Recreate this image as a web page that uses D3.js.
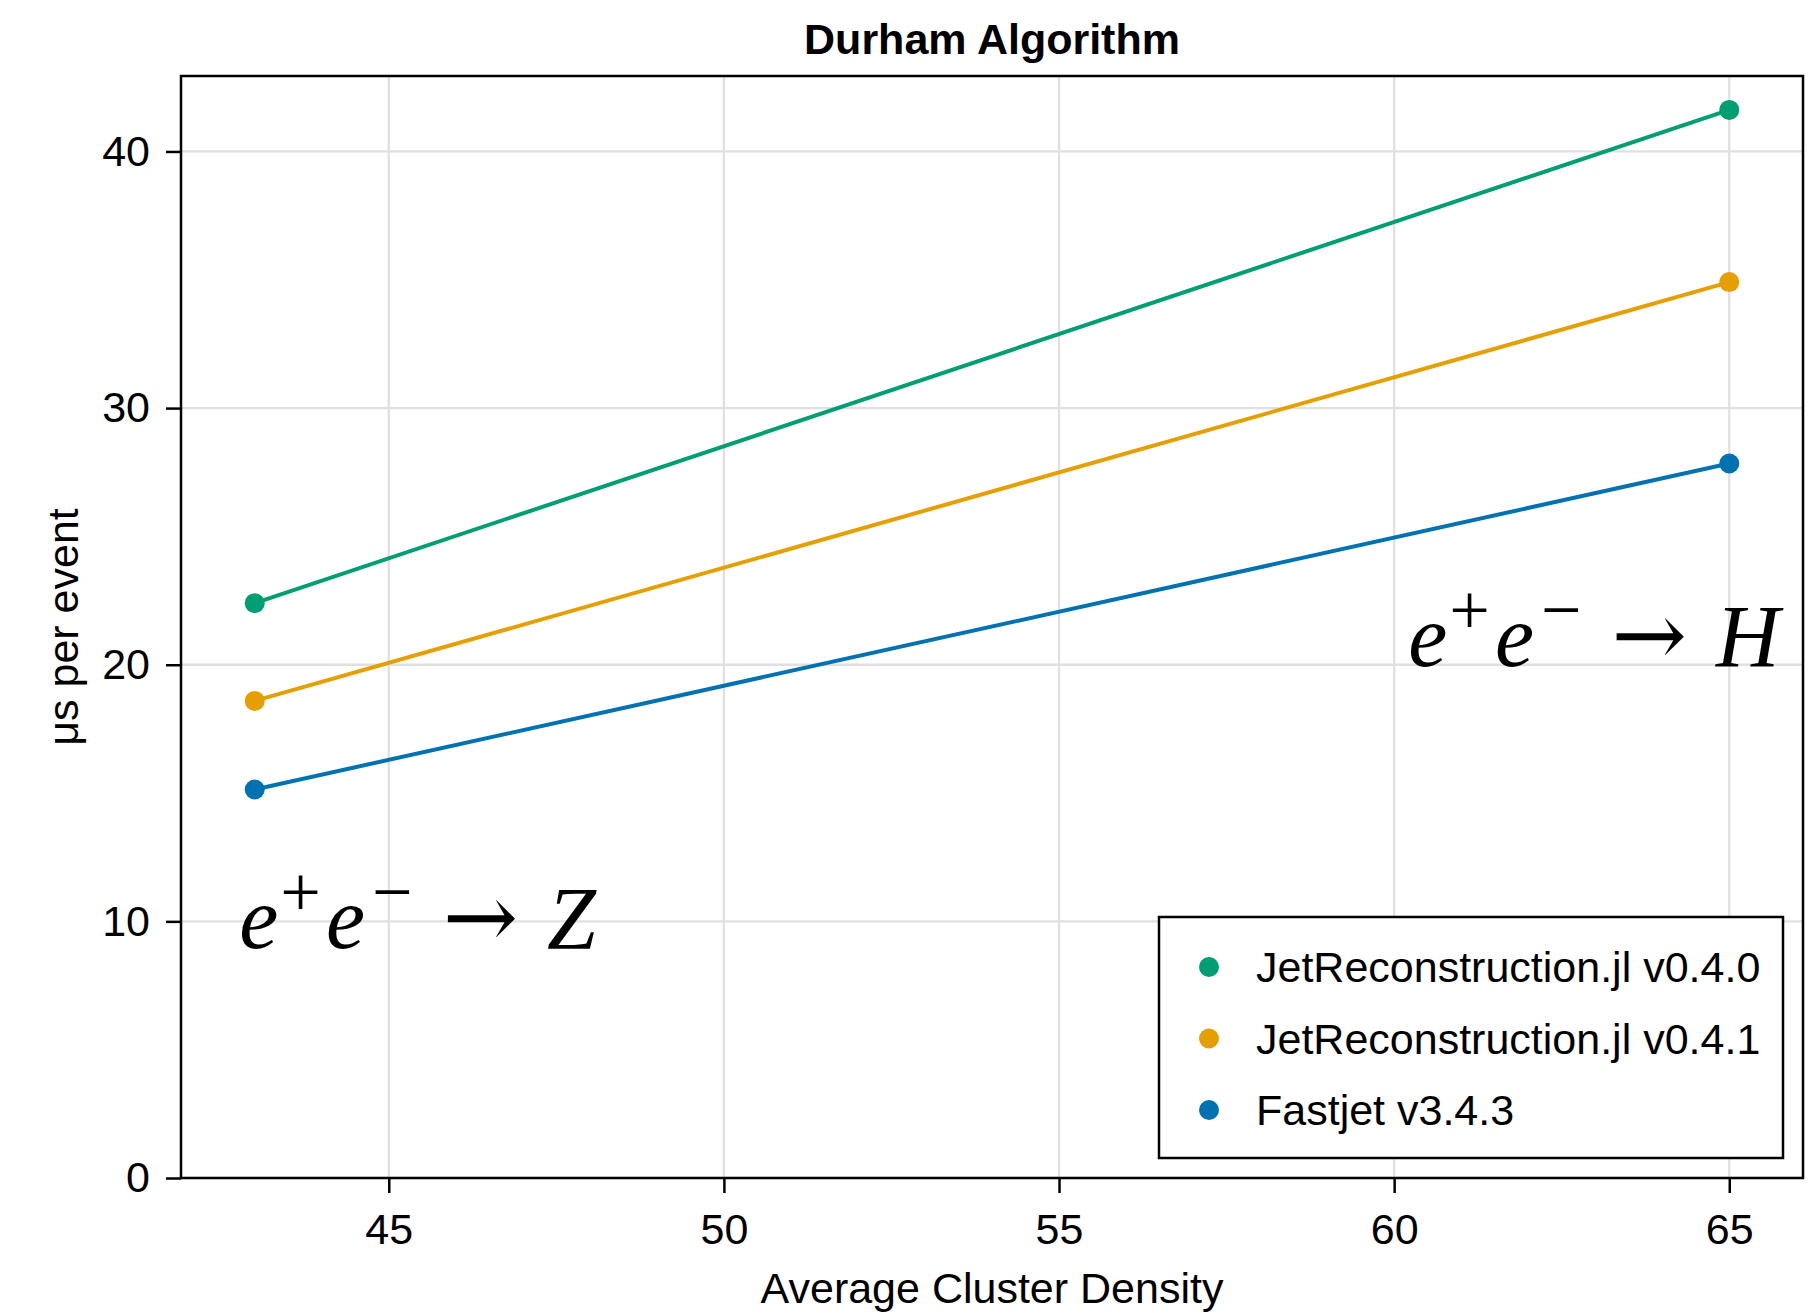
<!DOCTYPE html>
<html>
<head>
<meta charset="utf-8">
<script src="https://cdn.jsdelivr.net/npm/d3@7"></script>
<style>
  html, body { margin: 0; padding: 0; background: #fff; }
  svg { display: block; }
  text { font-family: "Liberation Sans", Arial, Helvetica, sans-serif; }
</style>
</head>
<body>
<div id="chart"></div>
<script>
// ---------------- data ----------------
const densities = [43, 65];
const seriesNames = ["JetReconstruction.jl v0.4.0", "JetReconstruction.jl v0.4.1", "Fastjet v3.4.3"];
const jetReco040 = [22.40, 41.62];
const jetReco041 = [18.59, 34.91];
const fastjet343 = [15.14, 27.84];
const seriesColors = ["#009E73", "#E69F00", "#0072B2"];
const xTicks = [45, 50, 55, 60, 65];
const yTicks = [0, 10, 20, 30, 40];
const titleText = "Durham Algorithm";
const xLabel = "Average Cluster Density";
const yLabel = "μs per event";
// annotations: [x, y] in data units
const annZ = { x: 42.77, y: 8.96, target: "Z", anchor: "start" };
const annH = { x: 65.75, y: 19.95, target: "H", anchor: "end" };

// ---------------- layout ----------------
const W = 1812, H = 1314;
const plot = { left: 181, right: 1803, top: 76, bottom: 1178 };
const FS = 43;

const svg = d3.select("#chart").append("svg").attr("width", W).attr("height", H);

const x = d3.scaleLinear().domain([41.9, 66.1]).range([plot.left, plot.right]);
const y = d3.scaleLinear().domain([0, 42.94]).range([plot.bottom, plot.top]);

// grid
const grid = svg.append("g").attr("stroke", "#e0e0e0").attr("stroke-width", 2.3);
grid.selectAll("line.vx").data(xTicks).join("line")
  .attr("x1", d => x(d)).attr("x2", d => x(d))
  .attr("y1", plot.top).attr("y2", plot.bottom);
grid.selectAll("line.hy").data(yTicks).join("line")
  .attr("y1", d => y(d)).attr("y2", d => y(d))
  .attr("x1", plot.left).attr("x2", plot.right);

// annotations (drawn over grid)
function drawAnn(a) {
  const t = svg.append("text")
    .attr("x", x(a.x)).attr("y", y(a.y))
    .attr("text-anchor", a.anchor)
    .style("font-family", "'Liberation Serif', 'Times New Roman', serif")
    .style("font-size", "88px")
    .attr("fill", "#000");
  t.append("tspan").style("font-style", "italic").text("e");
  t.append("tspan").attr("dx", 2).attr("dy", -32).style("font-size", "72px").text("+");
  t.append("tspan").attr("dx", 5).attr("dy", 32).style("font-style", "italic").text("e");
  t.append("tspan").attr("dx", 7).attr("dy", -32).style("font-size", "72px").text("\u2212");
  t.append("tspan").attr("dx", 30).attr("dy", 32)
    .style("font-family", "'DejaVu Serif', serif").style("font-size", "90px").text("\u2192");
  t.append("tspan").attr("dx", 29).style("font-style", "italic").text(a.target);
}
drawAnn(annZ);
drawAnn(annH);

// lines and points
const allSeries = [jetReco040, jetReco041, fastjet343];
const line = d3.line().x((d, i) => x(densities[i])).y(d => y(d));
allSeries.forEach((vals, k) => {
  svg.append("path").datum(vals)
    .attr("d", line).attr("fill", "none")
    .attr("stroke", seriesColors[k]).attr("stroke-width", 4);
  svg.append("g").selectAll("circle").data(vals).join("circle")
    .attr("cx", (d, i) => x(densities[i])).attr("cy", d => y(d))
    .attr("r", 10).attr("fill", seriesColors[k]);
});

// frame
svg.append("rect")
  .attr("x", plot.left).attr("y", plot.top)
  .attr("width", plot.right - plot.left).attr("height", plot.bottom - plot.top)
  .attr("fill", "none").attr("stroke", "#000").attr("stroke-width", 2.5);

// axes
const xAxis = svg.append("g").attr("transform", `translate(0,${plot.bottom})`)
  .call(d3.axisBottom(x).tickValues(xTicks).tickSize(15).tickPadding(20).tickFormat(d3.format("d")));
const yAxis = svg.append("g").attr("transform", `translate(${plot.left},0)`)
  .call(d3.axisLeft(y).tickValues(yTicks).tickSize(15).tickPadding(16).tickFormat(d3.format("d")));
[xAxis, yAxis].forEach(a => {
  a.select(".domain").remove();
  a.selectAll(".tick line").attr("stroke", "#000").attr("stroke-width", 2.5);
  a.selectAll(".tick text").attr("fill", "#000")
    .style("font-family", "'Liberation Sans', Arial, sans-serif").style("font-size", FS + "px");
});

// title
svg.append("text").attr("x", (plot.left + plot.right) / 2).attr("y", 54)
  .attr("text-anchor", "middle").style("font-weight", "bold").style("font-size", FS + "px")
  .text(titleText);
// x label
svg.append("text").attr("x", (plot.left + plot.right) / 2).attr("y", 1303)
  .attr("text-anchor", "middle").style("font-size", FS + "px").text(xLabel);
// y label
svg.append("text").attr("transform", `translate(78,${(plot.top + plot.bottom) / 2}) rotate(-90)`)
  .attr("text-anchor", "middle").style("font-size", FS + "px").text(yLabel);

// legend
const leg = { left: 1159, top: 917, width: 624, height: 241, rowH: 71.5, firstY: 967, markerX: 1209, textX: 1256 };
const lg = svg.append("g");
lg.append("rect").attr("x", leg.left).attr("y", leg.top).attr("width", leg.width).attr("height", leg.height)
  .attr("fill", "#fff").attr("stroke", "#000").attr("stroke-width", 2.5);
seriesNames.forEach((name, i) => {
  const cy = leg.firstY + i * leg.rowH;
  lg.append("circle").attr("cx", leg.markerX).attr("cy", cy).attr("r", 10).attr("fill", seriesColors[i]);
  lg.append("text").attr("x", leg.textX).attr("y", cy).attr("dy", "0.35em")
    .style("font-size", FS + "px").text(name);
});
</script>
</body>
</html>
